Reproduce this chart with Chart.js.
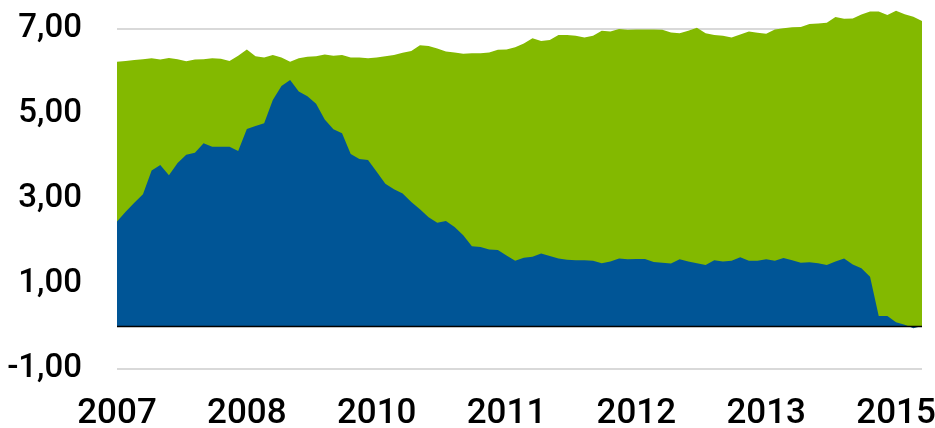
<!DOCTYPE html>
<html>
<head>
<meta charset="utf-8">
<script src="https://cdn.jsdelivr.net/npm/chart.js@4"></script>
<style>
  html, body { margin: 0; padding: 0; background: #fff; }
  #wrap { width: 935px; height: 428px; }
</style>
</head>
<body>
<div id="wrap"><canvas id="chart" width="935" height="428"></canvas></div>
<script>
// ---- data ----
const greenValues = [
    6.23, 6.25, 6.27, 6.29, 6.31, 6.28, 6.32, 6.29, 6.24, 6.28, 6.29, 6.31, 6.30, 6.25, 6.37, 6.52,
    6.36, 6.33, 6.39, 6.33, 6.23, 6.31, 6.35, 6.36, 6.40, 6.37, 6.39, 6.33, 6.33, 6.31, 6.33,
    6.36, 6.39, 6.44, 6.48, 6.62, 6.60, 6.54, 6.47, 6.45, 6.42, 6.43, 6.43, 6.45, 6.51, 6.52, 6.57,
    6.66, 6.78, 6.72, 6.74, 6.86, 6.86, 6.84, 6.80, 6.84, 6.96, 6.94, 7.00, 6.98, 6.99, 6.99, 6.99,
    6.98, 6.92, 6.90, 6.96, 7.03, 6.90, 6.86, 6.84, 6.80, 6.87, 6.94, 6.91, 6.89, 6.99, 7.02,
    7.04, 7.05, 7.12, 7.13, 7.15, 7.28, 7.24, 7.25, 7.34, 7.41, 7.41, 7.33, 7.43, 7.35, 7.29, 7.19
];
const blueValues = [
    2.47, 2.70, 2.91, 3.11, 3.67, 3.80, 3.56, 3.85, 4.04, 4.09, 4.31, 4.23, 4.23, 4.23, 4.13, 4.65,
    4.72, 4.78, 5.33, 5.66, 5.80, 5.53, 5.42, 5.24, 4.87, 4.64, 4.55, 4.06, 3.94, 3.92, 3.64,
    3.36, 3.23, 3.13, 2.93, 2.76, 2.57, 2.44, 2.48, 2.34, 2.15, 1.89, 1.87, 1.81, 1.80, 1.67, 1.55,
    1.62, 1.64, 1.72, 1.66, 1.60, 1.57, 1.56, 1.56, 1.55, 1.49, 1.53, 1.60, 1.58, 1.59, 1.59, 1.52,
    1.50, 1.48, 1.58, 1.53, 1.49, 1.45, 1.56, 1.53, 1.55, 1.63, 1.55, 1.55, 1.58, 1.55, 1.61,
    1.56, 1.50, 1.51, 1.49, 1.45, 1.53, 1.60, 1.46, 1.37, 1.17, 0.25, 0.25, 0.10, 0.04, -0.04, 0.01
];
// year labels shown under every 15th point
const xTickYears = ['2007', '2008', '2010', '2011', '2012', '2013', '2015'];
const yTickValues = [-1, 1, 3, 5, 7];

const labelStep = 15;
const categories = greenValues.map((v, i) => (i % labelStep === 0 ? (xTickYears[i / labelStep] || '') : ''));

const FONT = "'Roboto', 'Liberation Sans', sans-serif";

// black zero line on top of the areas
const zeroLine = {
    id: 'zeroLine',
    afterDatasetsDraw(chart) {
        const { ctx, chartArea, scales } = chart;
        const y = scales.y.getPixelForValue(0);
        ctx.save();
        ctx.strokeStyle = '#000';
        ctx.lineWidth = 1.5;
        ctx.beginPath();
        ctx.moveTo(chartArea.left, y);
        ctx.lineTo(chartArea.right, y);
        ctx.stroke();
        ctx.restore();
    }
};

new Chart(document.getElementById('chart'), {
    type: 'line',
    data: {
        labels: categories,
        datasets: [
            {
                label: 'blue',
                data: blueValues,
                order: 0,
                fill: 'origin',
                backgroundColor: '#005596',
                borderWidth: 0,
                pointRadius: 0,
                tension: 0
            },
            {
                label: 'green',
                data: greenValues,
                order: 1,
                fill: 'origin',
                backgroundColor: '#83B900',
                borderWidth: 0,
                pointRadius: 0,
                tension: 0
            }
        ]
    },
    options: {
        responsive: false,
        animation: false,
        layout: { padding: { top: 3.5, right: 13, left: 0, bottom: 0 } },
        plugins: {
            legend: { display: false },
            tooltip: { enabled: false }
        },
        scales: {
            x: {
                offset: false,
                border: { display: false },
                grid: { display: false, drawTicks: false },
                afterFit(scale) {
                    scale.height = 59;
                    scale.paddingLeft = 0;
                    scale.paddingRight = 0;
                },
                ticks: {
                    autoSkip: false,
                    maxRotation: 0,
                    padding: 24,
                    color: '#000',
                    font: { family: FONT, size: 35, weight: '500' }
                }
            },
            y: {
                min: -1,
                max: 7.6,
                border: { display: false },
                grid: { color: '#d9d9d9', lineWidth: 2, drawTicks: false },
                afterFit(scale) {
                    scale.width = 117;
                    scale.paddingTop = 0;
                    scale.paddingBottom = 0;
                },
                afterBuildTicks(scale) {
                    scale.ticks = yTickValues.map(v => ({ value: v }));
                },
                ticks: {
                    padding: 35,
                    color: '#000',
                    font: { family: FONT, size: 33, weight: '500' },
                    callback: v => v.toFixed(2).replace('.', ',')
                }
            }
        }
    },
    plugins: [zeroLine]
});
</script>
</body>
</html>
